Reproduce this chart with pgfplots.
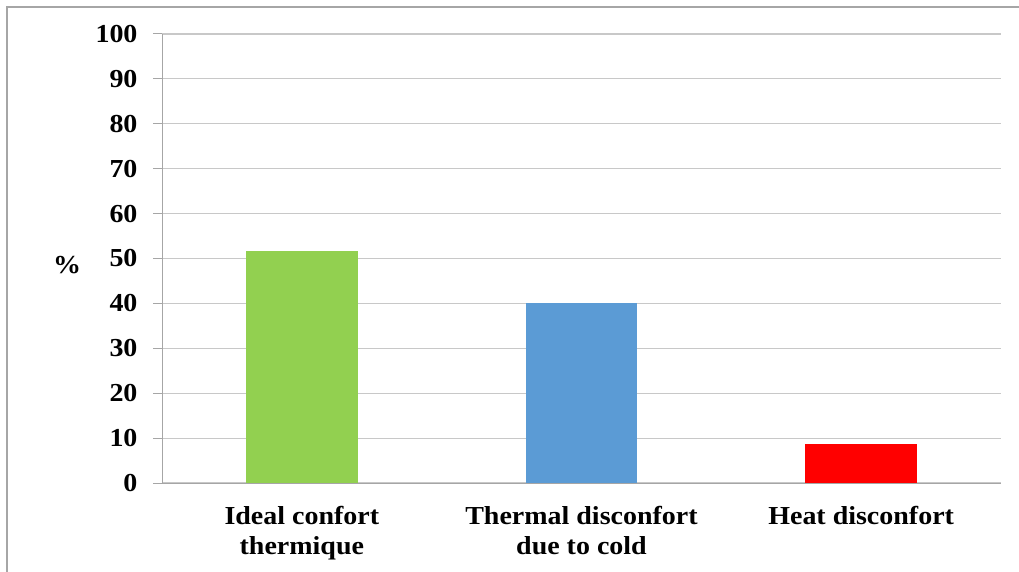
\documentclass[border=0pt]{standalone}
\usepackage{fontspec}
\setmainfont{Liberation Serif}[FakeStretch=1.08]
\usepackage{pgfplots}
\pgfplotsset{compat=1.18}
\definecolor{cgreen}{HTML}{92D050}
\definecolor{cblue}{HTML}{5B9BD5}
\definecolor{cred}{HTML}{FF0000}
\definecolor{cgrid}{HTML}{C8C8C8}
\definecolor{caxis}{HTML}{A6A6A6}
\begin{document}
\begin{tikzpicture}
\begin{axis}[
  name=ax,
  scale only axis,
  width=839bp, height=449bp,
  xmin=-0.5, xmax=2.5,
  ymin=0, ymax=100,
  ytick={0,10,...,100},
  ymajorgrids,
  grid style={cgrid, line width=1.2pt},
  axis x line*=bottom,
  axis y line*=left,
  axis line style={caxis, line width=1pt, -},
  y tick style={caxis, line width=1pt},
  tick align=outside,
  major tick length=9bp,
  xtick={0,1,2},
  xticklabels={Ideal confort\\thermique, Thermal disconfort\\due to cold, Heat disconfort},
  x tick style={draw=none},
  extra x ticks={0.5,1.5,2.5},
  extra x tick labels={},
  extra x tick style={x tick style={caxis, line width=1pt}, major tick length=8bp, grid=none},
  ticklabel style={font=\fontsize{26}{29.5}\selectfont\bfseries},
  xticklabel style={align=center, yshift=-11bp},
  yticklabel style={xshift=-12bp},
  /pgf/number format/assume math mode=true,
  ybar, bar shift=0pt, bar width=0.4,
  clip=false,
]
\addplot[fill=cgreen, draw=none] coordinates {(0,51.6)};
\addplot[fill=cblue, draw=none] coordinates {(1,40.0)};
\addplot[fill=cred, draw=none] coordinates {(2,8.6)};
\end{axis}
\node[font=\fontsize{26}{29}\selectfont\bfseries] at ([xshift=-95bp,yshift=-7bp]ax.west) {\%};
\draw[caxis, line width=1.2pt] ([xshift=-155bp,yshift=-89bp]ax.south west) -- ([xshift=-155bp,yshift=27bp]ax.north west) -- ([xshift=18bp,yshift=27bp]ax.north east);
\pgfresetboundingbox
\path[use as bounding box] ([xshift=-162bp,yshift=-89bp]ax.south west) rectangle ([xshift=18bp,yshift=34bp]ax.north east);
\end{tikzpicture}
\end{document}
